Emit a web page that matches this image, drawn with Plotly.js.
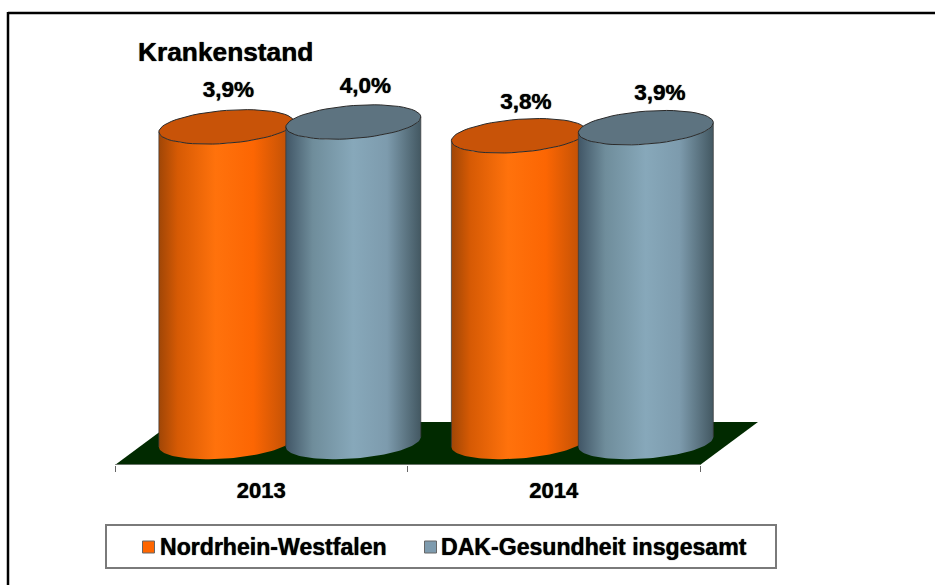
<!DOCTYPE html>
<html>
<head>
<meta charset="utf-8">
<script src="https://cdn.plot.ly/plotly-3.0.1.min.js"></script>
<style>
html, body { margin: 0; padding: 0; background: #fff; }
</style>
</head>
<body>
<div id="chart" style="width:935px;height:585px"></div>
<script>
const years = ['2013', '2014'];
const seriesNames = ['Nordrhein-Westfalen', 'DAK-Gesundheit insgesamt'];
const nrwValues = [3.9, 3.79];
const dakValues = [3.96, 3.89];
const titleText = 'Krankenstand';

const FONT = '"Liberation Sans", Arial, sans-serif';
const HEAVY = '0 0 1px #000';
const W = 935, H = 585;

// plot area in pixels, wide enough for the floor's right corner
const plot = {left: 115, right: 765, top: 65, bottom: 465};
const pxPerCat = 292.5;
const pxPerUnit = 80.8;
const baseDrop = 18;   // px between the floor's front edge and value 0
const yMin = -baseDrop / pxPerUnit;
const yMax = yMin + (plot.bottom - plot.top) / pxPerUnit;
const xMax = (plot.right - plot.left) / pxPerCat;

const cylW = 135 / pxPerCat;
const rise = 5 / pxPerUnit, depth = 16.5 / pxPerUnit;
const slots = [0.15, 0.584];

const orangeScale = [[0, '#a04606'], [0.14, '#d65a04'], [0.42, '#ff720c'], [0.7, '#fc6603'], [1, '#b84e06']];
const blueScale = [[0, '#415666'], [0.2, '#6f8d9b'], [0.5, '#87a8ba'], [0.75, '#7d9bad'], [1, '#435862']];
const orangeFlat = '#ff6600', blueFlat = '#7e9bae';
const orangeTop = '#c85308', blueTop = '#5d7380';

function ellipseArc(cx, cy, t0, t1) {
    const xs = [], ys = [];
    const n = 60;
    for (let i = 0; i <= n; i++) {
        const t = t0 + (t1 - t0) * i / n;
        xs.push(cx + cylW / 2 * Math.cos(t));
        ys.push(cy + rise * Math.cos(t) - depth * Math.sin(t));
    }
    return {x: xs, y: ys};
}

function cylinderTraces(left, value, scale, topColor) {
    const cx = left + cylW / 2;
    const right = left + cylW;
    // the value is read at the left shoulder of the cylinder
    const base = ellipseArc(cx, rise, Math.PI, 0);
    const top = ellipseArc(cx, value + rise, 0, Math.PI);
    const lid = ellipseArc(cx, value + rise, 0, 2 * Math.PI);
    return [{
        type: 'scatter', mode: 'lines', hoverinfo: 'skip', showlegend: false,
        x: base.x.concat(top.x), y: base.y.concat(top.y),
        fill: 'toself', line: {width: 0},
        fillcolor: topColor,
        fillgradient: {type: 'horizontal', colorscale: scale}
    }, {
        // thin dark side edges
        type: 'scatter', mode: 'lines', hoverinfo: 'skip', showlegend: false,
        x: [left, left, null, right, right],
        y: [0, value, null, 2 * rise, value + 2 * rise],
        line: {color: '#3a3a3a', width: 0.7}
    }, {
        type: 'scatter', mode: 'lines', hoverinfo: 'skip', showlegend: false,
        x: lid.x, y: lid.y, fill: 'toself', fillcolor: topColor,
        line: {color: '#2a2a2a', width: 1}
    }];
}

function label(v) {
    return v.toFixed(1).replace('.', ',') + '%';
}

const floorDx = 58 / pxPerCat, floorDy = 43 / pxPerUnit;
const traces = [{
    type: 'scatter', mode: 'lines', hoverinfo: 'skip', showlegend: false,
    x: [0, 2, 2 + floorDx, floorDx, 0],
    y: [yMin, yMin, yMin + floorDy, yMin + floorDy, yMin],
    fill: 'toself', fillcolor: '#012a00', line: {width: 0}
}];

years.forEach(function(year, i) {
    traces.push(...cylinderTraces(i + slots[0], nrwValues[i], orangeScale, orangeTop));
    traces.push(...cylinderTraces(i + slots[1], dakValues[i], blueScale, blueTop));
});

// value labels sit a bit right of each cylinder's middle
const labelShift = [[2, 7], [12, 14]];
const labelLift = [[41, 37], [40, 38]];
[nrwValues, dakValues].forEach(function(vals, s) {
    traces.push({
        type: 'scatter', mode: 'text', cliponaxis: false, hoverinfo: 'skip', showlegend: false,
        x: vals.map(function(v, i) { return i + slots[s] + cylW / 2 + labelShift[s][i] / pxPerCat; }),
        y: vals.map(function(v, i) { return v + labelLift[s][i] / pxPerUnit; }),
        text: vals.map(label),
        textposition: 'middle center',
        textfont: {family: FONT, size: 22.5, color: '#000', weight: 'bold', shadow: HEAVY}
    });
});

function paperX(px) { return (px - plot.left) / (plot.right - plot.left); }
function paperY(py) { return (plot.bottom - py) / (plot.bottom - plot.top); }

function pxRect(x0, y0, x1, y1, extra) {
    return Object.assign({
        type: 'rect', xref: 'paper', yref: 'paper', layer: 'above',
        x0: paperX(x0), x1: paperX(x1), y0: paperY(y0), y1: paperY(y1)
    }, extra);
}

function pxLine(x0, y0, x1, y1) {
    return {
        type: 'line', xref: 'paper', yref: 'paper', layer: 'below',
        x0: paperX(x0), x1: paperX(x1), y0: paperY(y0), y1: paperY(y1),
        line: {color: '#000', width: 2.5}
    };
}

const shapes = [
    pxLine(8, 13, 935, 13),
    pxLine(8, 12, 8, 585),
    // axis line stops at the last category, the plot area goes on for the floor
    {type: 'line', xref: 'x', yref: 'y', layer: 'above', x0: 0, x1: 2, y0: yMin, y1: yMin,
        line: {color: '#8c8c8c', width: 1.5}},
    pxRect(106, 525, 776, 568, {line: {color: '#7a7a7a', width: 2}}),
    pxRect(142.5, 541, 154.5, 553, {fillcolor: orangeFlat, line: {color: '#666', width: 1}}),
    pxRect(424.5, 541, 436.5, 553, {fillcolor: blueFlat, line: {color: '#666', width: 1}})
];

const annotations = [
    {text: seriesNames[0], x: paperX(158), y: paperY(547), xanchor: 'left'},
    {text: seriesNames[1], x: paperX(439), y: paperY(547), xanchor: 'left'}
].map(function(a) {
    return Object.assign(a, {
        xref: 'paper', yref: 'paper', yanchor: 'middle', showarrow: false,
        font: {family: FONT, size: 23.1, color: '#000', weight: 'bold', shadow: HEAVY}
    });
});

const layout = {
    width: W, height: H,
    margin: {l: plot.left, r: W - plot.right, t: plot.top, b: H - plot.bottom, pad: 0},
    paper_bgcolor: '#fff', plot_bgcolor: 'rgba(0,0,0,0)',
    showlegend: false,
    title: {
        text: titleText,
        xref: 'container', yref: 'container',
        x: 138 / W, xanchor: 'left',
        y: 1 - 52 / H, yanchor: 'middle',
        font: {family: FONT, size: 26.3, color: '#000', weight: 'bold', shadow: HEAVY}
    },
    xaxis: {
        range: [0, xMax], fixedrange: true, zeroline: false, showgrid: false, showline: false,
        tickmode: 'array', tickvals: [0.5, 1.5], ticktext: years,
        ticks: '', ticklabelstandoff: 10,
        tickfont: {family: FONT, size: 22, color: '#000', weight: 'bold', shadow: HEAVY},
        minor: {tickmode: 'array', tickvals: [0, 1, 2], ticks: 'outside', ticklen: 6, tickcolor: '#666', tickwidth: 1, showgrid: false}
    },
    yaxis: {range: [yMin, yMax], visible: false, fixedrange: true},
    shapes: shapes,
    annotations: annotations
};

Plotly.newPlot('chart', traces, layout, {displayModeBar: false, staticPlot: true});
</script>
</body>
</html>
